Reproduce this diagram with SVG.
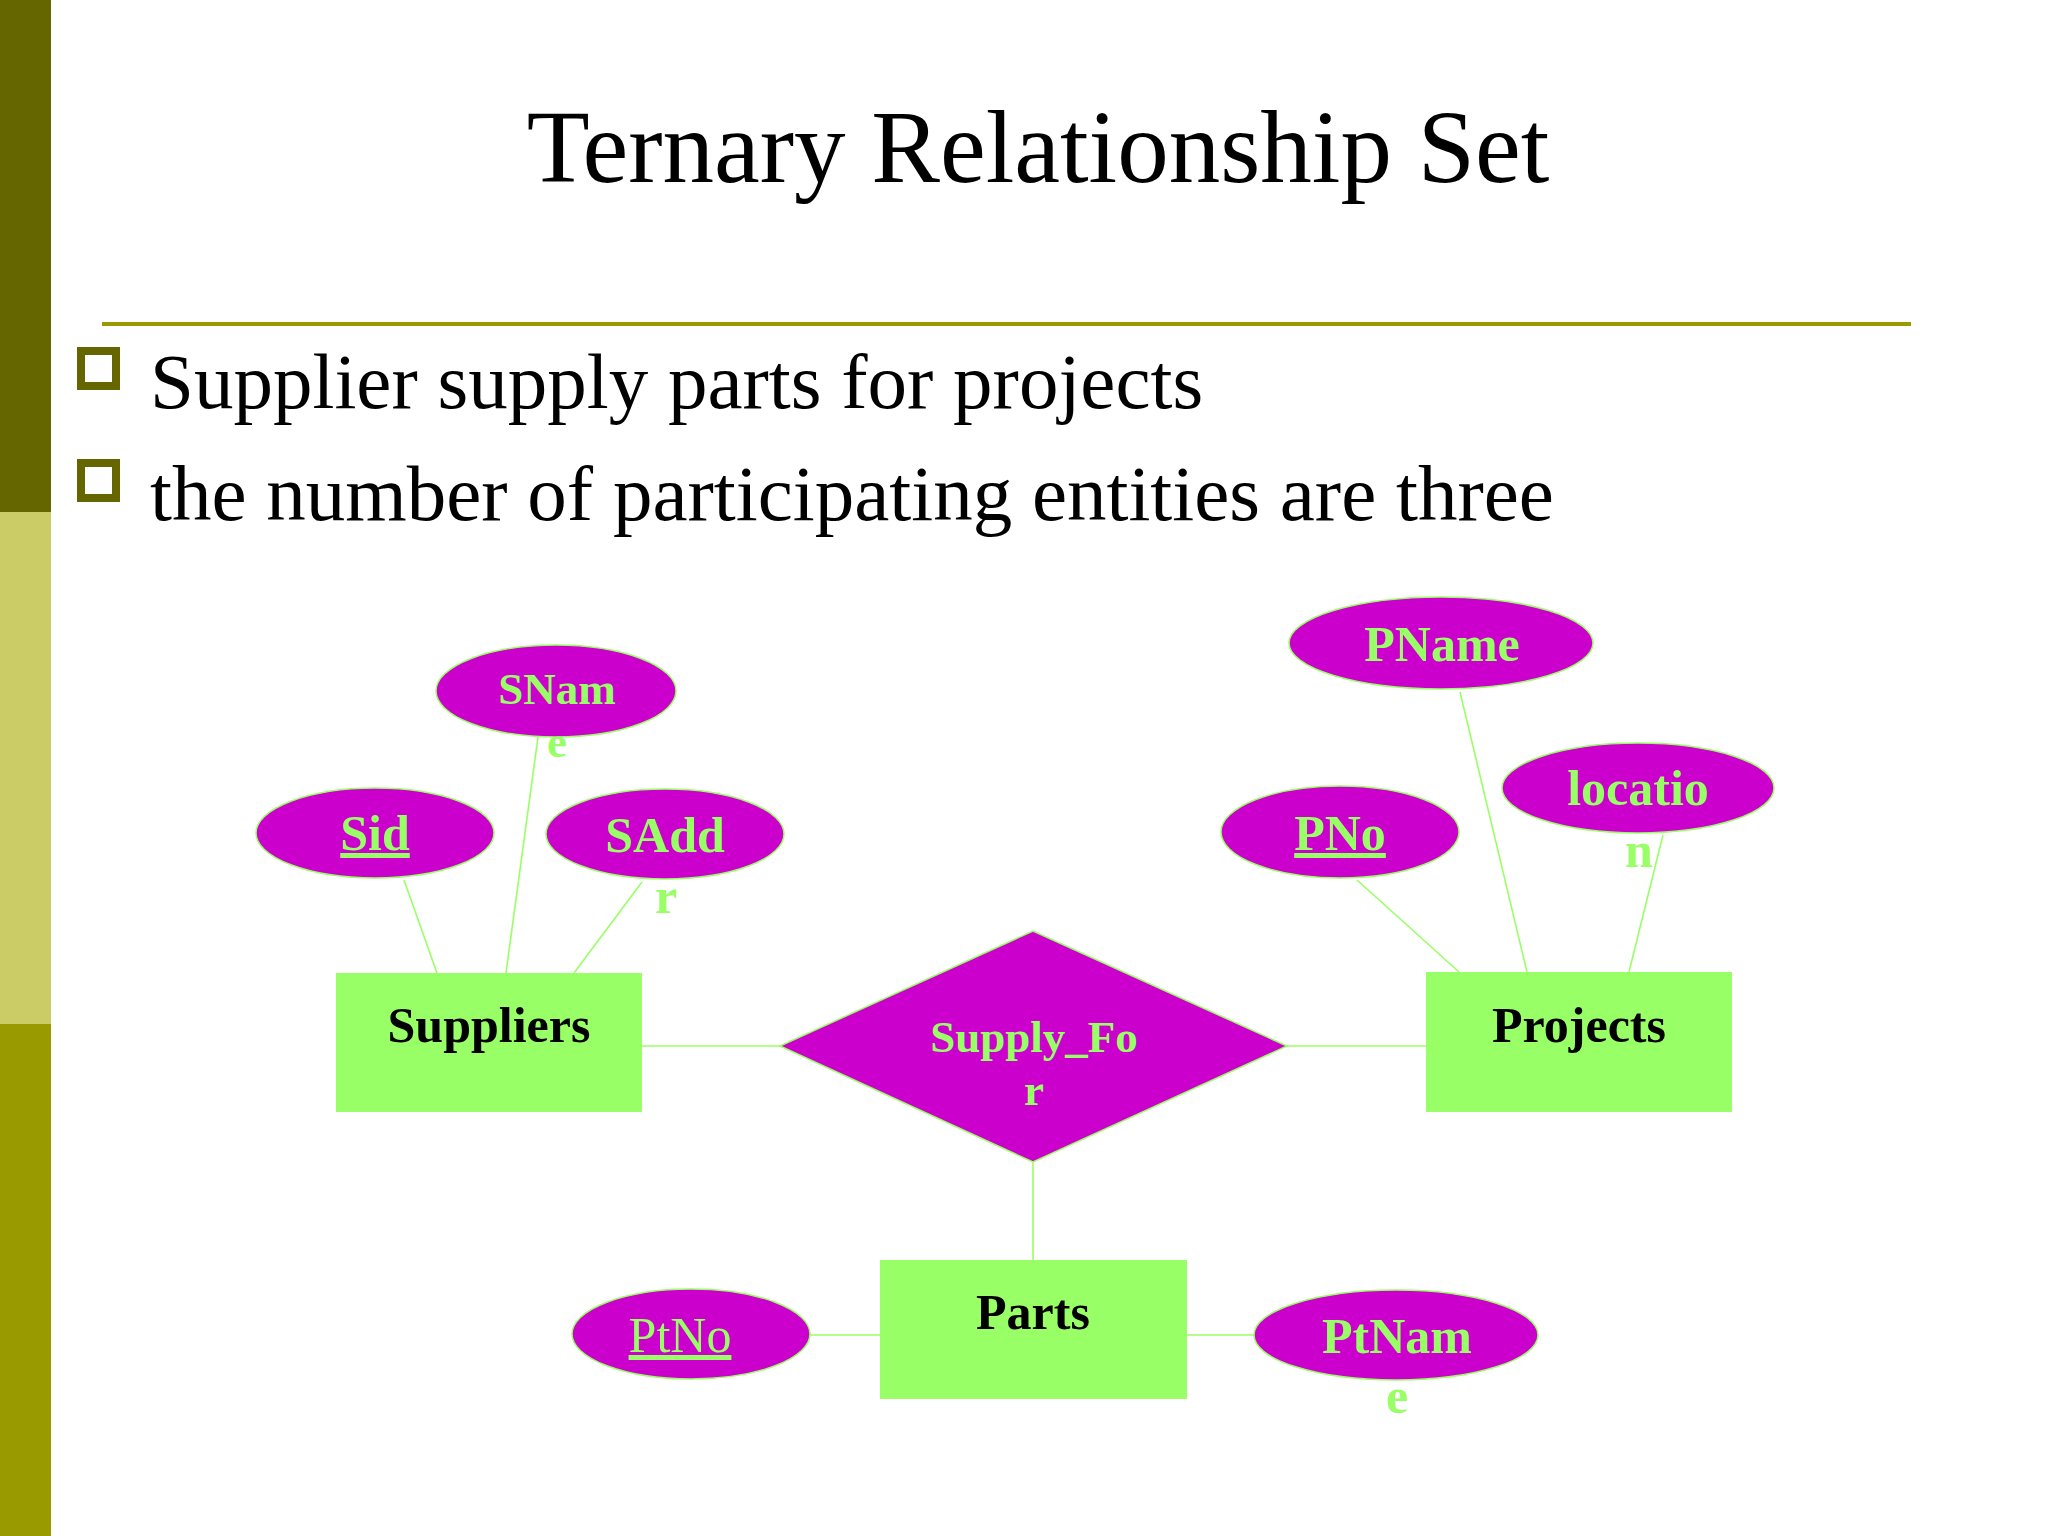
<svg xmlns="http://www.w3.org/2000/svg" width="2048" height="1536" viewBox="0 0 2048 1536">
<defs>
<style>
.serif{font-family:"Liberation Serif","Times New Roman",serif}
.title{font-size:103px;fill:#000}
.bullet-text{font-size:79px;fill:#000}
.bullet{fill:#fff;stroke:#666600;stroke-width:8}
.conn{stroke:#99FF66;stroke-width:1.6;fill:none}
.attr{fill:#CC00CC;stroke:#99FF66;stroke-width:1.5}
.ent{fill:#99FF66}
.rel{fill:#CC00CC;stroke:#99FF66;stroke-width:1.5}
.alabel{font-family:"Liberation Serif","Times New Roman",serif;font-weight:bold;font-size:50px;fill:#99FF66;text-anchor:middle}
.elabel{font-family:"Liberation Serif","Times New Roman",serif;font-weight:bold;font-size:50px;fill:#000;text-anchor:middle}
.key{text-decoration:underline}
</style>
</defs>
<rect width="2048" height="1536" fill="#fff"/>
<rect x="0" y="0" width="51" height="512" fill="#666600"/>
<rect x="0" y="512" width="51" height="512" fill="#CCCC66"/>
<rect x="0" y="1024" width="51" height="512" fill="#999900"/>
<text class="serif title" x="1038" y="182" text-anchor="middle">Ternary Relationship Set</text>
<rect x="102" y="322" width="1809" height="4" fill="#999900"/>
<rect class="bullet" x="81" y="351" width="35" height="35"/>
<rect class="bullet" x="81" y="463" width="35" height="35"/>
<text class="serif bullet-text" x="150" y="408">Supplier supply parts for projects</text>
<text class="serif bullet-text" x="150" y="520">the number of participating entities are three</text>

<g id="connectors">
<line class="conn" x1="404" y1="880" x2="437" y2="973"/>
<line class="conn" x1="538" y1="737" x2="506" y2="973"/>
<line class="conn" x1="642" y1="882" x2="574" y2="973"/>
<line class="conn" x1="642" y1="1046" x2="780" y2="1046"/>
<line class="conn" x1="1287" y1="1046" x2="1426" y2="1046"/>
<line class="conn" x1="1357" y1="880" x2="1459" y2="972"/>
<line class="conn" x1="1460" y1="692" x2="1527" y2="972"/>
<line class="conn" x1="1663" y1="835" x2="1629" y2="972"/>
<line class="conn" x1="1033" y1="1162" x2="1033" y2="1260"/>
<line class="conn" x1="810" y1="1335" x2="880" y2="1335"/>
<line class="conn" x1="1187" y1="1335" x2="1254" y2="1335"/>
</g>

<g id="suppliers">
<rect class="ent" x="336" y="973" width="306" height="139"/>
<text class="elabel" x="489" y="1042">Suppliers</text>
</g>
<g id="sid">
<ellipse class="attr" cx="375" cy="833" rx="119" ry="45"/>
<text class="alabel key" x="375" y="850">Sid</text>
</g>
<g id="sname">
<ellipse class="attr" cx="556" cy="691" rx="120" ry="46"/>
<text class="alabel" x="557" y="704" style="font-size:45px">SNam</text>
<text class="alabel" x="557" y="757" style="font-size:45px">e</text>
</g>
<g id="saddr">
<ellipse class="attr" cx="665" cy="834" rx="119" ry="45"/>
<text class="alabel" x="665" y="852">SAdd</text>
<text class="alabel" x="666" y="913">r</text>
</g>

<g id="supply_for">
<polygon class="rel" points="1033,931 1287,1046 1033,1162 780,1046"/>
<text class="alabel" x="1034" y="1052" style="font-size:45px">Supply_Fo</text>
<text class="alabel" x="1034" y="1105" style="font-size:45px">r</text>
</g>

<g id="projects">
<rect class="ent" x="1426" y="972" width="306" height="140"/>
<text class="elabel" x="1579" y="1042">Projects</text>
</g>
<g id="pno">
<ellipse class="attr" cx="1340" cy="832" rx="119" ry="46"/>
<text class="alabel key" x="1340" y="850">PNo</text>
</g>
<g id="pname">
<ellipse class="attr" cx="1441" cy="643" rx="152" ry="46"/>
<text class="alabel" x="1442" y="661">PName</text>
</g>
<g id="location">
<ellipse class="attr" cx="1638" cy="788" rx="136" ry="45"/>
<text class="alabel" x="1638" y="805">locatio</text>
<text class="alabel" x="1639" y="867">n</text>
</g>

<g id="parts">
<rect class="ent" x="880" y="1260" width="307" height="139"/>
<text class="elabel" x="1033" y="1329">Parts</text>
</g>
<g id="ptno">
<ellipse class="attr" cx="691" cy="1334" rx="119" ry="45"/>
<text class="alabel key" x="680" y="1352" style="font-weight:normal">PtNo</text>
</g>
<g id="ptname">
<ellipse class="attr" cx="1396" cy="1335" rx="142" ry="45"/>
<text class="alabel" x="1397" y="1353">PtNam</text>
<text class="alabel" x="1397" y="1413">e</text>
</g>
</svg>
